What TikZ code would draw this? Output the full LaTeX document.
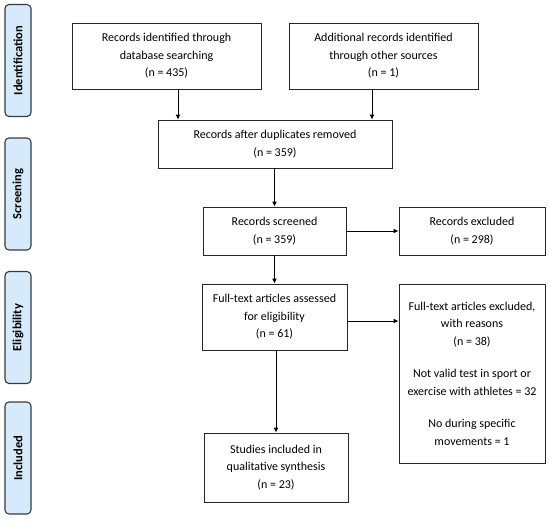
\documentclass[tikz,border=0pt]{standalone}
\usepackage{fontspec}
\setmainfont{Carlito}
\usetikzlibrary{arrows.meta}
\definecolor{sidefill}{HTML}{D5EAFB}
\definecolor{sidedraw}{HTML}{3A3A3A}
\tikzset{
  box/.style={draw=black!85, line width=0.9pt, align=center, inner sep=2pt,
    font=\fontsize{12}{17.5}\selectfont, fill=white},
  side/.style={draw=sidedraw, line width=1.1pt, fill=sidefill, rounded corners=4pt,
    rotate=90, minimum width=112pt, minimum height=26pt, inner sep=0pt,
    font=\fontsize{12.5}{14}\selectfont\bfseries},
  arr/.style={line width=0.9pt, -{Latex[length=5pt,width=5pt]}}
}
\begin{document}
\begin{tikzpicture}[x=1pt,y=-1pt]
\useasboundingbox (0,0) rectangle (550,528);
% side labels
\node[side] (sid) at (18,60.5) {Identification};
\node[side] (sscr) at (18,194) {Screening};
\node[side] (selig) at (18,327.5) {Eligibility};
\node[side] (sinc) at (18,458) {Included};
% boxes
\node[box, minimum width=189pt, minimum height=66pt] (id1) at (166.5,56)
  {Records identified through\\database searching\\(n = 435)};
\node[box, minimum width=189pt, minimum height=66pt] (id2) at (383.5,56)
  {Additional records identified\\through other sources\\(n = 1)};
\node[box, minimum width=234pt, minimum height=48pt] (dup) at (275,144)
  {Records after duplicates removed\\(n = 359)};
\node[box, minimum width=143pt, minimum height=48pt] (scr) at (274.5,231)
  {Records screened\\(n = 359)};
\node[box, minimum width=146pt, minimum height=48pt] (exc) at (472,231)
  {Records excluded\\(n = 298)};
\node[box, minimum width=145pt, minimum height=66pt] (full) at (274.5,317)
  {Full-text articles assessed\\for eligibility\\(n = 61)};
\node[box, minimum width=146pt, minimum height=179pt] (fexc) at (472,373.5)
  {Full-text articles excluded,\\with reasons\\(n = 38)\\[15pt]Not valid test in sport or\\exercise with athletes = 32\\[15pt]No during specific\\movements = 1};
\node[box, minimum width=144pt, minimum height=69pt] (inc) at (276,467.5)
  {Studies included in\\qualitative synthesis\\(n = 23)};
% arrows
\draw[arr] ([xshift=11.5pt]id1.south) -- ([xshift=11.5pt]id1.south |- dup.north);
\draw[arr] ([xshift=-11.5pt]id2.south) -- ([xshift=-11.5pt]id2.south |- dup.north);
\draw[arr] (dup.south -| scr.north) -- (scr.north);
\draw[arr] (scr.east) -- (exc.west);
\draw[arr] (scr.south) -- (full.north);
\draw[arr] ([yshift=-4pt]full.east) -- ([yshift=-4pt]full.east -| fexc.west);
\draw[arr] (full.south -| inc.north) -- (inc.north);
\end{tikzpicture}
\end{document}
